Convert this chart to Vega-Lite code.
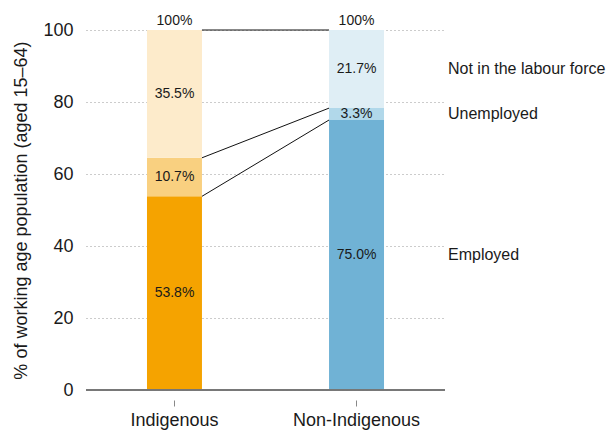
{
  "$schema": "https://vega.github.io/schema/vega-lite/v6.json",
  "width": 359,
  "height": 360,
  "autosize": {"type": "none"},
  "padding": {"left": 86, "top": 30, "right": 165, "bottom": 45},
  "background": "white",
  "config": {
    "font": "Liberation Sans",
    "view": {"stroke": null}
  },
  "datasets": {
    "segments": [
      {"group": "Indigenous", "status": "Employed", "pct": 53.8, "order": 1},
      {"group": "Indigenous", "status": "Unemployed", "pct": 10.7, "order": 2},
      {"group": "Indigenous", "status": "Not in the labour force", "pct": 35.5, "order": 3},
      {"group": "Non-Indigenous", "status": "Employed", "pct": 75.0, "order": 1},
      {"group": "Non-Indigenous", "status": "Unemployed", "pct": 3.3, "order": 2},
      {"group": "Non-Indigenous", "status": "Not in the labour force", "pct": 21.7, "order": 3}
    ],
    "links": [
      {"from": "Indigenous", "to": "Non-Indigenous", "a": 100, "b": 100},
      {"from": "Indigenous", "to": "Non-Indigenous", "a": 64.5, "b": 78.3},
      {"from": "Indigenous", "to": "Non-Indigenous", "a": 53.8, "b": 75.0}
    ],
    "totals": [
      {"group": "Indigenous", "total": 100},
      {"group": "Non-Indigenous", "total": 100}
    ]
  },
  "layer": [
    {
      "data": {"name": "segments"},
      "transform": [
        {"stack": "pct", "groupby": ["group"], "sort": [{"field": "order"}], "as": ["y0", "y1"]},
        {"calculate": "datum.group + ' ' + datum.status", "as": "key"}
      ],
      "mark": {"type": "bar"},
      "encoding": {
        "x": {
          "field": "group", "type": "nominal",
          "scale": {"paddingInner": 0.698, "paddingOuter": 0.335},
          "axis": {
            "title": null, "labelAngle": 0, "domain": false, "ticks": true,
            "tickSize": 6, "tickColor": "#888", "offset": 10,
            "labelFontSize": 18, "labelColor": "#1a1a1a", "labelPadding": 5
          }
        },
        "y": {
          "field": "y0", "type": "quantitative",
          "scale": {"domain": [0, 100], "nice": false},
          "axis": {
            "title": "% of working age population (aged 15–64)",
            "values": [0, 20, 40, 60, 80, 100],
            "domain": false, "ticks": false, "grid": true,
            "gridDash": [1, 3], "gridColor": "#999", "gridWidth": 1,
            "labelFontSize": 18, "labelColor": "#1a1a1a", "labelPadding": 13,
            "titleFontSize": 18, "titleFontWeight": "normal", "titleColor": "#1a1a1a",
            "titlePadding": 12
          }
        },
        "y2": {"field": "y1"},
        "color": {
          "field": "key", "type": "nominal", "legend": null,
          "scale": {
            "domain": ["Indigenous Employed", "Indigenous Unemployed", "Indigenous Not in the labour force",
                       "Non-Indigenous Employed", "Non-Indigenous Unemployed", "Non-Indigenous Not in the labour force"],
            "range": ["#F5A300", "#F9D080", "#FDEBCB", "#70B2D5", "#B1D8EA", "#DFEEF5"]
          }
        }
      }
    },
    {
      "data": {"name": "segments"},
      "mark": {"type": "rule", "color": "#777", "strokeWidth": 1},
      "encoding": {"y": {"datum": 0}}
    },
    {
      "data": {"name": "links"},
      "mark": {"type": "rule", "color": "#111", "strokeWidth": 1},
      "encoding": {
        "x": {"field": "from", "type": "nominal", "bandPosition": 1},
        "x2": {"field": "to", "bandPosition": 0},
        "y": {"field": "a", "type": "quantitative"},
        "y2": {"field": "b"}
      }
    },
    {
      "data": {"name": "segments"},
      "transform": [
        {"stack": "pct", "groupby": ["group"], "sort": [{"field": "order"}], "as": ["y0", "y1"]},
        {"calculate": "(datum.y0 + datum.y1) / 2", "as": "mid"},
        {"calculate": "format(datum.pct, '.1f') + '%'", "as": "label"}
      ],
      "mark": {"type": "text", "fontSize": 14, "color": "#1a1a1a", "baseline": "middle"},
      "encoding": {
        "x": {"field": "group", "type": "nominal"},
        "y": {"field": "mid", "type": "quantitative"},
        "text": {"field": "label"}
      }
    },
    {
      "data": {"name": "segments"},
      "transform": [
        {"filter": "datum.group == 'Non-Indigenous'"},
        {"stack": "pct", "groupby": ["group"], "sort": [{"field": "order"}], "as": ["y0", "y1"]},
        {"calculate": "(datum.y0 + datum.y1) / 2", "as": "mid"}
      ],
      "mark": {"type": "text", "fontSize": 16, "color": "#1a1a1a", "baseline": "middle", "align": "left", "dx": 64},
      "encoding": {
        "x": {"field": "group", "type": "nominal", "bandPosition": 1},
        "y": {"field": "mid", "type": "quantitative"},
        "text": {"field": "status"}
      }
    },
    {
      "data": {"name": "totals"},
      "transform": [{"calculate": "datum.total + '%'", "as": "label"}],
      "mark": {"type": "text", "fontSize": 14, "color": "#1a1a1a", "baseline": "bottom", "dy": -2},
      "encoding": {
        "x": {"field": "group", "type": "nominal"},
        "y": {"field": "total", "type": "quantitative"},
        "text": {"field": "label"}
      }
    }
  ]
}
